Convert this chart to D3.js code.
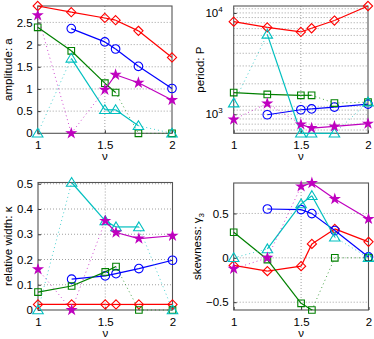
<!DOCTYPE html>
<html>
<head>
<meta charset="utf-8">
<script src="https://cdn.jsdelivr.net/npm/d3@7"></script>
<style>
  body { margin: 0; background: #fff; }
  svg { font-family: "Liberation Sans", Arial, sans-serif; }
</style>
</head>
<body>
<svg width="374" height="339"></svg>
<script>
const svg = d3.select('svg');

// nu values shared by every panel
const nu = [1, 1.25, 1.5, 1.58, 1.75, 2];
const xTicks = [1, 1.5, 2];

const seriesNames = ['red', 'blue', 'green', 'cyan', 'magenta'];

// amplitude: a
const ampRed = [2.87, 2.73, 2.60, 2.55, 2.31, 1.71];
const ampBlue = [null, 2.36, 2.06, 1.90, 1.51, 1.01];
const ampGreen = [2.39, 1.86, 1.13, 0.92, 0, 0];
const ampCyan = [0, 1.69, 0.53, 0.53, 0.17, 0];
const ampMagenta = [2.66, 0, 0.98, 1.32, 1.14, 0.75];

// period: P
const perRed = [8200, 7200, 6490, 7060, 8410, 11700];
const perBlue = [null, 990, 1110, 1130, 1180, 1260];
const perGreen = [1640, 1570, 1540, 1540, 1290, 1320];
const perCyan = [1290, 6140, 650, 650, 650, 1320];
const perMagenta = [890, 1280, 796, 732, 760, 810];

// relative width: kappa
const widRed = [0.022, 0.022, 0.022, 0.022, 0.022, 0.022];
const widBlue = [null, 0.122, 0.135, 0.144, 0.164, 0.197];
const widGreen = [0.071, 0.095, 0.151, 0.172, 0, 0];
const widCyan = [0, 0.505, 0.353, 0.329, 0.329, 0];
const widMagenta = [0.161, 0, 0.353, 0.307, 0.283, 0.294];

// skewness: gamma3
const skwRed = [-0.086, -0.15, -0.094, 0.157, 0.326, 0.18];
const skwBlue = [null, 0.55, 0.543, 0.498, 0.307, 0.01];
const skwGreen = [0.288, -0.02, -0.513, -0.588, 0, 0];
const skwCyan = [0, 0.10, 0.607, 0.70, 0.232, 0];
const skwMagenta = [-0.124, 0, 0.805, 0.843, 0.663, 0.438];

const ampTicks = [0, 0.5, 1, 1.5, 2, 2.5];
const widTicks = [0, 0.1, 0.2, 0.3, 0.4, 0.5];
const skwTicks = [-0.5, 0, 0.5];
const perTicks = [1000, 10000];

const amps = [ampRed, ampBlue, ampGreen, ampCyan, ampMagenta];

const colors = {
  red: '#ff0000', blue: '#0000ff', green: '#008000',
  cyan: '#00bfbf', magenta: '#bf00bf'
};

// marker paths
const diamond = r => `M0,${-r}L${r},0L0,${r}L${-r},0Z`;
const square = r => `M${-r},${-r}H${r}V${r}H${-r}Z`;
const triangle = r => `M0,${-r}L${r * 1.05},${r * 0.75}L${-r * 1.05},${r * 0.75}Z`;
const markers = {
  red: diamond(4.6),
  blue: d3.symbol(d3.symbolCircle, 58)(),
  green: square(3.3),
  cyan: triangle(5),
  magenta: d3.symbol(d3.symbolStar, 24)()
};

const panels = [
  { vals: [ampRed, ampBlue, ampGreen, ampCyan, ampMagenta], ticks: ampTicks,
    x0: 37.7, x1: 172, y0: 6, y1: 133.3, label: 'amplitude: a', labelX: 12 },
  { vals: [perRed, perBlue, perGreen, perCyan, perMagenta], ticks: perTicks, log: true,
    x0: 233.7, x1: 368, y0: 6, y1: 133.3, label: 'period: P', labelX: 204 },
  { vals: [widRed, widBlue, widGreen, widCyan, widMagenta], ticks: widTicks,
    x0: 38, x1: 172.5, y0: 182.5, y1: 310, label: 'relative width: \u03ba', labelX: 12 },
  { vals: [skwRed, skwBlue, skwGreen, skwCyan, skwMagenta], ticks: skwTicks,
    x0: 233.7, x1: 368.5, y0: 183, y1: 310, label: 'skewness: \u03b3', sub: '3', labelX: 201 }
];

panels.forEach(p => {
  const g = svg.append('g');
  const all = p.vals.flat().filter(v => v !== null);

  const x = d3.scaleLinear().domain([1, 2]).range([p.x0, p.x1]);
  const y = (p.log ? d3.scaleLog() : d3.scaleLinear())
    .domain(d3.extent(all)).range([p.y1, p.y0]);

  // grid
  const gridY = p.log
    ? d3.range(2, 13).map(k => k * 100).concat(d3.range(2, 12).map(k => k * 1000))
        .filter(v => v > y.domain()[0] && v < y.domain()[1])
    : p.ticks.filter(v => v > y.domain()[0] && v < y.domain()[1]);
  g.selectAll('.gy').data(gridY).enter().append('line')
    .attr('x1', p.x0).attr('x2', p.x1)
    .attr('y1', d => y(d)).attr('y2', d => y(d))
    .attr('stroke', '#888').attr('stroke-width', 0.8)
    .attr('stroke-dasharray', '1,2');
  g.append('line')
    .attr('x1', x(1.5)).attr('x2', x(1.5))
    .attr('y1', p.y0).attr('y2', p.y1)
    .attr('stroke', '#888').attr('stroke-width', 0.8)
    .attr('stroke-dasharray', '1,2');

  // x axis
  const xAxis = d3.axisBottom(x).tickValues(xTicks).tickFormat(d3.format('')).tickSize(-3).tickPadding(8);
  const xG = g.append('g').attr('transform', `translate(0,${p.y1})`).call(xAxis);
  xG.select('.domain').remove();
  xG.selectAll('text').attr('font-size', 11.5).attr('font-family', null).attr('fill', '#000');
  xG.selectAll('line').attr('stroke', '#333');
  g.append('text')
    .attr('x', (p.x0 + p.x1) / 2).attr('y', p.y1 + 27)
    .attr('text-anchor', 'middle').attr('font-size', 11.5)
    .text('\u03bd');

  // y axis
  const yAxis = d3.axisLeft(y).tickValues(p.ticks).tickSize(-3).tickPadding(5)
    .tickFormat(p.log ? () => '' : d3.format(''));
  const yG = g.append('g').attr('transform', `translate(${p.x0},0)`).call(yAxis);
  yG.select('.domain').remove();
  yG.selectAll('text').attr('font-size', 11.5).attr('font-family', null).attr('fill', '#000');
  yG.selectAll('line').attr('stroke', '#333');
  if (p.log) {
    p.ticks.forEach(t => {
      const tx = g.append('text')
        .attr('x', p.x0 - 11).attr('y', y(t) + 4)
        .attr('text-anchor', 'end').attr('font-size', 11.5);
      tx.append('tspan').text('10');
      tx.append('tspan').attr('font-size', 8).attr('dy', -5).text(Math.log10(t));
    });
  }

  const lbl = g.append('text')
    .attr('transform', `translate(${p.labelX},${(p.y0 + p.y1) / 2}) rotate(-90)`)
    .attr('text-anchor', 'middle').attr('font-size', 11.5);
  lbl.append('tspan').text(p.label);
  if (p.sub) lbl.append('tspan').attr('font-size', 8).attr('dy', 3).text(p.sub);

  // frame
  g.append('rect')
    .attr('x', p.x0).attr('y', p.y0)
    .attr('width', p.x1 - p.x0).attr('height', p.y1 - p.y0)
    .attr('fill', 'none').attr('stroke', '#555').attr('stroke-width', 1.1);

  // series
  p.vals.forEach((vals, si) => {
    const name = seriesNames[si];
    const col = colors[name];
    const amp = amps[si];
    const pts = nu.map((n, i) => ({ n: n, v: vals[i], i: i }));
    for (let i = 0; i < pts.length - 1; i++) {
      const a = pts[i], b = pts[i + 1];
      if (a.v === null || b.v === null) continue;
      const dotted = amp[i] === 0 || amp[i + 1] === 0;
      g.append('line')
        .attr('x1', x(a.n)).attr('y1', y(a.v))
        .attr('x2', x(b.n)).attr('y2', y(b.v))
        .attr('stroke', col)
        .attr('stroke-width', dotted ? 1 : 1.2)
        .attr('stroke-dasharray', dotted ? '1,3' : null)
        .attr('opacity', dotted ? 0.7 : 1);
    }
    g.selectAll(null).data(pts.filter(d => d.v !== null)).enter().append('path')
      .attr('d', markers[name])
      .attr('transform', d => `translate(${x(d.n)},${y(d.v)})`)
      .attr('fill', name === 'magenta' ? col : 'none')
      .attr('stroke', col).attr('stroke-width', 1.1);
  });
});
</script>
</body>
</html>
